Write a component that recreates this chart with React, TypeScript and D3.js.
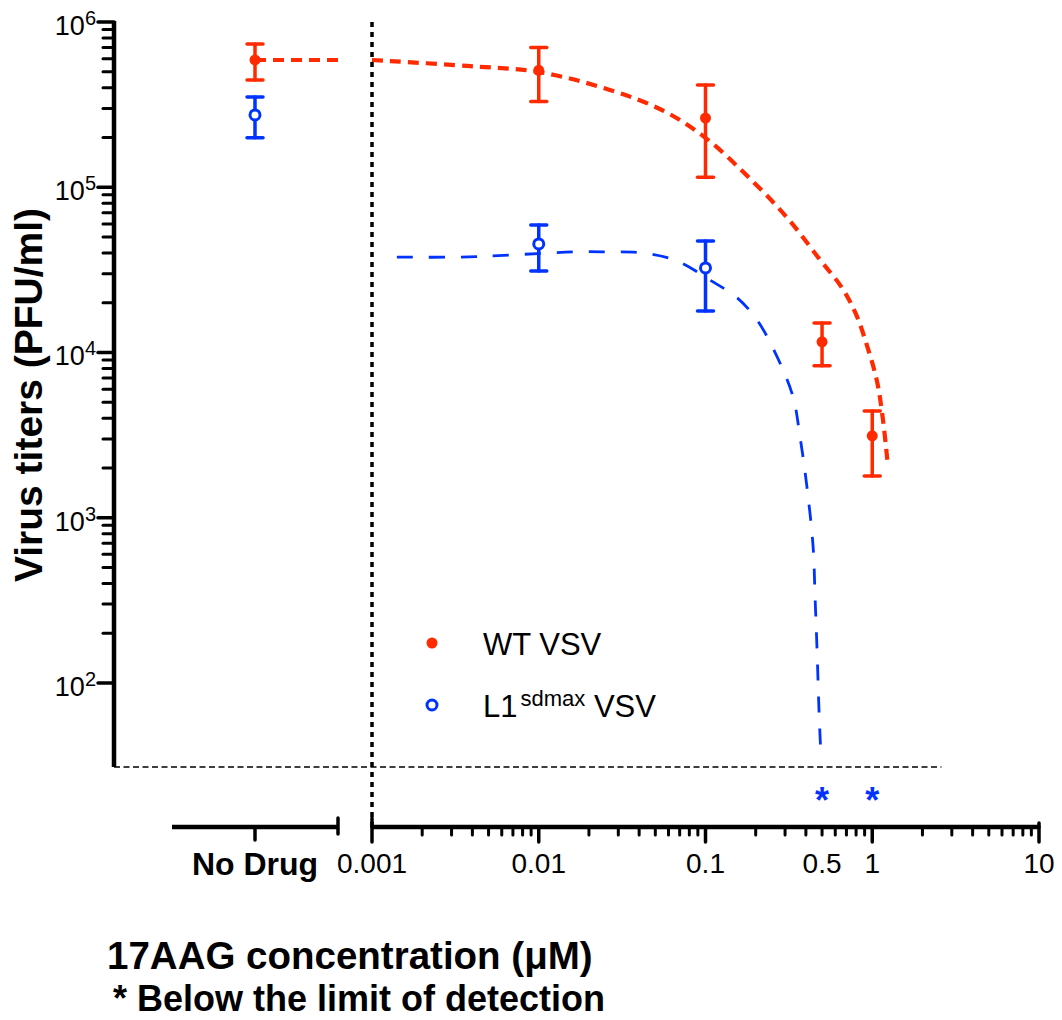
import * as d3 from 'd3'

// --- data ---
const CONC = [0.01, 0.1, 0.5, 1]
const WT_MEAN = [5.1e5, 2.62e5, 1.16e4, 3.13e3]
const WT_LO = [3.3e5, 1.15e5, 8.3e3, 1.79e3]
const WT_HI = [7.0e5, 4.16e5, 1.51e4, 4.43e3]
const WT_NODRUG = { mean: 5.89e5, lo: 4.46e5, hi: 7.36e5 }

const L1_CONC = [0.01, 0.1]
const L1_MEAN = [4.54e4, 3.25e4]
const L1_LO = [3.11e4, 1.78e4]
const L1_HI = [5.91e4, 4.73e4]
const L1_NODRUG = { mean: 2.74e5, lo: 1.99e5, hi: 3.52e5 }
const L1_BELOW_LOD = [0.5, 1]

// fitted curves: [conc, titer]
const WT_FIT: [number, number][] = [
  [0.001, 5.89e5], [0.00372, 5.42e5], [0.01, 4.98e5], [0.0267, 3.88e5],
  [0.0564, 2.89e5], [0.1, 1.99e5], [0.193, 1.08e5], [0.317, 6.34e4],
  [0.48, 3.7e4], [0.66, 2.45e4], [0.80, 1.7e4], [0.93, 1.1e4],
  [1.067, 6.72e3], [1.16, 3.9e3], [1.24, 2.08e3],
]
const L1_FIT: [number, number][] = [
  [0.00141, 3.78e4], [0.00337, 3.78e4], [0.00673, 3.89e4], [0.016, 4.06e4],
  [0.0267, 4.06e4], [0.0422, 4.0e4], [0.0675, 3.58e4], [0.106, 2.75e4],
  [0.155, 2.14e4], [0.204, 1.57e4], [0.269, 9.4e3], [0.335, 5.38e3],
  [0.369, 3.08e3], [0.406, 1.53e3], [0.442, 666], [0.454, 331],
  [0.466, 165], [0.48, 65.8], [0.493, 35.2],
]

const X_LABELS = [0.001, 0.01, 0.1, 0.5, 1, 10]
const Y_MAJOR = [1e2, 1e3, 1e4, 1e5, 1e6]
const LOD_END = 2.6

const RED = '#ff2a00'
const BLUE = '#0033ff'
const FONT = 'Liberation Sans, Arial, Helvetica, sans-serif'

const x = d3.scaleLog().domain([0.001, 10]).range([372, 1039])
const xNoDrug = d3.scalePoint<string>().domain(['No Drug']).range([172, 338]).padding(0.5)
const y = d3.scaleLog().domain([31, 1e6]).range([767, 22])

const AXIS_Y = 827
const AXIS_X = 114

function ErrorPoint({ cx, mean, lo, hi, color, open }: any) {
  const cap = 8
  return (
    <g stroke={color} strokeWidth={3.5} strokeLinecap="round">
      <line x1={cx} x2={cx} y1={y(lo)} y2={y(hi)} />
      <line x1={cx - cap} x2={cx + cap} y1={y(lo)} y2={y(lo)} />
      <line x1={cx - cap} x2={cx + cap} y1={y(hi)} y2={y(hi)} />
      {open
        ? <circle cx={cx} cy={y(mean)} r={5} fill="#fff" strokeWidth={3} />
        : <circle cx={cx} cy={y(mean)} r={5.5} fill={color} stroke="none" />}
    </g>
  )
}

export default function App() {
  const line = d3.line<[number, number]>()
    .x(d => x(d[0]))
    .y(d => y(d[1]))
    .curve(d3.curveCatmullRom.alpha(0.5))

  const yMinor = y.ticks().filter(v => v >= 100 && !Y_MAJOR.includes(v))
  const xTicks = x.ticks()
  const isMajor = (v: number) => Math.abs(Math.log10(v) - Math.round(Math.log10(v))) < 1e-6
  const ndX = xNoDrug('No Drug') as number

  return (
    <div style={{ position: 'absolute', left: 0, top: 0 }}>
      <svg width={1062} height={1020} style={{ display: 'block', fontFamily: FONT }}>
        <rect width={1062} height={1020} fill="#fff" />

        {/* limit of detection */}
        <line x1={AXIS_X} x2={x(LOD_END)} y1={y(31)} y2={y(31)}
          stroke="#000" strokeWidth={1.6} strokeDasharray="6,3.5" />

        {/* dotted break line at 0.001 */}
        <line x1={x(0.001)} x2={x(0.001)} y1={y(1e6)} y2={AXIS_Y}
          stroke="#000" strokeWidth={3.5} strokeDasharray="5,5" />

        {/* fitted curves */}
        <path d={line(L1_FIT) ?? ''} fill="none" stroke={BLUE} strokeWidth={2.8} strokeDasharray="16,16" />
        <path d={line(WT_FIT) ?? ''} fill="none" stroke={RED} strokeWidth={4.2} strokeDasharray="11,7" />
        <line x1={ndX} x2={338} y1={y(WT_NODRUG.mean)} y2={y(WT_NODRUG.mean)}
          stroke={RED} strokeWidth={4.2} strokeDasharray="11,7" />

        {/* Y axis */}
        <g stroke="#000" strokeLinecap="round">
          <line x1={AXIS_X} x2={AXIS_X} y1={y(1e6) - 1} y2={y(31)} strokeWidth={4.5} strokeLinecap="butt" />
          {Y_MAJOR.map(v => (
            <line key={v} x1={98} x2={AXIS_X} y1={y(v)} y2={y(v)} strokeWidth={3.5} />
          ))}
          {yMinor.map(v => (
            <line key={v} x1={103} x2={AXIS_X} y1={y(v)} y2={y(v)} strokeWidth={3} />
          ))}
        </g>
        {Y_MAJOR.map(v => (
          <text key={v} x={96} y={y(v) + 13} textAnchor="end" fontSize={27}>
            10<tspan dy={-10} fontSize={20}>{Math.round(Math.log10(v))}</tspan>
          </text>
        ))}
        <text transform="translate(42,395) rotate(-90)" textAnchor="middle"
          fontSize={39} fontWeight="bold">Virus titers (PFU/ml)</text>

        {/* X axis: no drug segment */}
        <g stroke="#000" strokeLinecap="round">
          <line x1={172} x2={338} y1={AXIS_Y} y2={AXIS_Y} strokeWidth={4.5} strokeLinecap="butt" />
          <line x1={ndX} x2={ndX} y1={AXIS_Y} y2={840} strokeWidth={3.5} />
          <line x1={338} x2={338} y1={818} y2={834} strokeWidth={3.5} />
        </g>
        {/* X axis: concentration segment */}
        <g stroke="#000" strokeLinecap="round">
          <line x1={x(0.001)} x2={x(10)} y1={AXIS_Y} y2={AXIS_Y} strokeWidth={4.5} strokeLinecap="butt" />
          <line x1={x(0.001)} x2={x(0.001)} y1={818} y2={AXIS_Y} strokeWidth={3.5} />
          <line x1={x(10)} x2={x(10)} y1={823} y2={AXIS_Y} strokeWidth={3.5} />
          {xTicks.map(v => (
            <line key={v} x1={x(v)} x2={x(v)} y1={AXIS_Y} y2={isMajor(v) ? 842 : 835}
              strokeWidth={isMajor(v) ? 3.5 : 3} />
          ))}
        </g>
        <text x={ndX} y={875} textAnchor="middle" fontSize={32} fontWeight="bold">No Drug</text>
        {X_LABELS.map(v => (
          <text key={v} x={x(v)} y={873} textAnchor="middle" fontSize={28}>{String(v)}</text>
        ))}

        {/* data points */}
        <ErrorPoint cx={ndX} {...WT_NODRUG} color={RED} />
        <ErrorPoint cx={ndX} {...L1_NODRUG} color={BLUE} open />
        {CONC.map((c, i) => (
          <ErrorPoint key={c} cx={x(c)} mean={WT_MEAN[i]} lo={WT_LO[i]} hi={WT_HI[i]} color={RED} />
        ))}
        {L1_CONC.map((c, i) => (
          <ErrorPoint key={c} cx={x(c)} mean={L1_MEAN[i]} lo={L1_LO[i]} hi={L1_HI[i]} color={BLUE} open />
        ))}
        {L1_BELOW_LOD.map(c => (
          <text key={c} x={x(c)} y={813} textAnchor="middle" fontSize={36} fontWeight="bold" fill={BLUE}>*</text>
        ))}

        {/* legend */}
        <circle cx={432} cy={643} r={5.5} fill={RED} />
        <text x={483} y={655} fontSize={31}>WT VSV</text>
        <circle cx={432} cy={705} r={5} fill="#fff" stroke={BLUE} strokeWidth={3} />
        <text x={483} y={717} fontSize={31}>
          L1<tspan dx={3} dy={-11} fontSize={22}>sdmax</tspan><tspan dy={11}> VSV</tspan>
        </text>

        {/* titles */}
        <text x={107} y={969} fontSize={38.5} fontWeight="bold">17AAG concentration (μM)</text>
        <text x={113} y={1011} fontSize={36} fontWeight="bold">* Below the limit of detection</text>
      </svg>
    </div>
  )
}
